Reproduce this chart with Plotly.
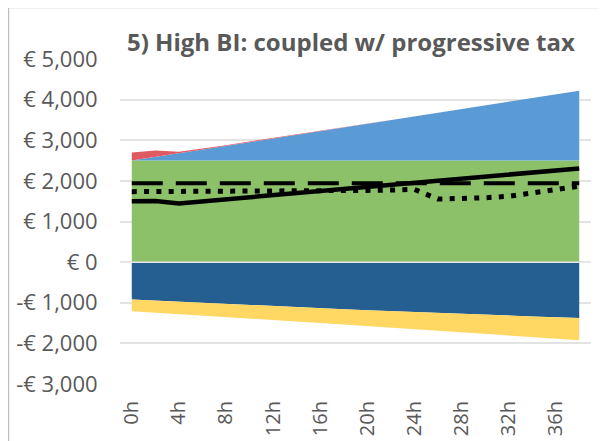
import plotly.graph_objects as go

hours = [0, 2, 4, 6, 8, 10, 12, 14, 16, 18, 20, 22, 24, 26, 28, 30, 32, 34, 36, 38]
tick_hours = [0, 4, 8, 12, 16, 20, 24, 28, 32, 36]
tick_hour_labels = ["0h", "4h", "8h", "12h", "16h", "20h", "24h", "28h", "32h", "36h"]

basic_income = [2500] * 20
wage = [0, 90, 180, 270, 360, 455, 545, 635, 725, 815, 905, 995, 1085, 1175, 1265, 1360, 1450, 1540, 1630, 1720]
benefit = [200, 160, 40, 25, 18, 14, 10, 8, 6, 4, 3, 2, 0, 0, 0, 0, 0, 0, 0, 0]
tax = [-920, -948, -976, -1003, -1030, -1056, -1082, -1108, -1133, -1158, -1182, -1206, -1229, -1252, -1274, -1295, -1316, -1336, -1356, -1376]
social = [-287, -293, -299, -306, -313, -326, -339, -352, -366, -380, -395, -410, -426, -442, -459, -472, -489, -508, -526, -545]

net_solid = [1500, 1505, 1445, 1496, 1547, 1598, 1649, 1700, 1750, 1801, 1852, 1903, 1954, 2004, 2055, 2106, 2157, 2208, 2258, 2307]
net_dashed = [1940] * 20
net_dotted = [1735, 1735, 1735, 1735, 1735, 1735, 1740, 1750, 1760, 1760, 1765, 1775, 1790, 1552, 1560, 1584, 1620, 1710, 1790, 1870]

y_ticks = [-3000, -2000, -1000, 0, 1000, 2000, 3000, 4000, 5000]
y_tick_labels = ["-€ 3,000", "-€ 2,000", "-€ 1,000", "€ 0", "€ 1,000", "€ 2,000", "€ 3,000", "€ 4,000", "€ 5,000"]

fig = go.Figure()

def area(y, color, group):
    fig.add_trace(go.Scatter(x=hours, y=y, mode="lines", stackgroup=group,
                             line=dict(width=0, color=color), fillcolor=color,
                             hoverinfo="skip"))

area(basic_income, "#8CC169", "pos")
area(wage, "#5B9BD5", "pos")
area(benefit, "#E05A62", "pos")
area(tax, "#255E91", "neg")
area(social, "#FFD762", "neg")

fig.add_trace(go.Scatter(x=hours, y=net_dashed, mode="lines",
                         line=dict(color="black", width=4, dash="31px,13px")))
fig.add_trace(go.Scatter(x=hours, y=net_dotted, mode="lines",
                         line=dict(color="black", width=5, dash="5px,7.3px")))
fig.add_trace(go.Scatter(x=hours, y=net_solid, mode="lines",
                         line=dict(color="black", width=4.5)))

# page body adds an 8px offset; figure coordinates below are screenshot coords minus 8
OFF = 8
W, H = 607, 441
L, R, T, B = 120 - OFF, W - (591 - OFF), 59 - OFF, H - (384 - OFF)
pw, ph = W - L - R, H - T - B

def px(x):
    return (x - OFF - L) / pw

def py(y):
    return (H - B - (y - OFF)) / ph

fig.add_shape(type="line", xref="paper", yref="paper", x0=px(8.5), x1=px(8.5), y0=py(460), y1=py(7.5),
              line=dict(color="#BFBFBF", width=1.5))
fig.add_shape(type="line", xref="paper", yref="paper", x0=px(8.5), x1=px(620), y0=py(7.5), y1=py(7.5),
              line=dict(color="#BFBFBF", width=1.5))
# zero gridline visible between positive and negative areas
fig.add_shape(type="line", xref="paper", yref="y", x0=0, x1=1, y0=0, y1=0, layer="above",
              line=dict(color="#E8E8E8", width=1.5))

fig.add_annotation(text="<b>5) High BI: coupled w/ progressive tax</b>", xref="paper", yref="paper",
                   x=px(351), y=py(41), showarrow=False, xanchor="center", yanchor="middle",
                   font=dict(family="Open Sans", size=24, color="#595959"))

fig.update_layout(
    width=W, height=H,
    margin=dict(l=L, r=R, t=T, b=B, autoexpand=False),
    paper_bgcolor="white", plot_bgcolor="white",
    showlegend=False,
    font=dict(family="Open Sans", size=21, color="#595959"),
)
fig.update_xaxes(range=[-1, 39], tickvals=tick_hours, ticktext=tick_hour_labels, tickangle=-90,
                 showgrid=False, zeroline=False, showline=False, ticks="outside", ticklen=8,
                 automargin=False,
                 tickcolor="rgba(0,0,0,0)", tickfont=dict(family="Open Sans", size=20, color="#595959"))
fig.update_yaxes(range=[-3000, 5000], tickvals=y_ticks, ticktext=y_tick_labels,
                 showgrid=True, gridcolor="#E3E3E3", gridwidth=1.5, zeroline=False, showline=False,
                 ticks="outside", ticklen=17, tickcolor="rgba(0,0,0,0)", automargin=False,
                 tickfont=dict(family="Open Sans", size=22, color="#595959"))

fig.write_html("out.html")
